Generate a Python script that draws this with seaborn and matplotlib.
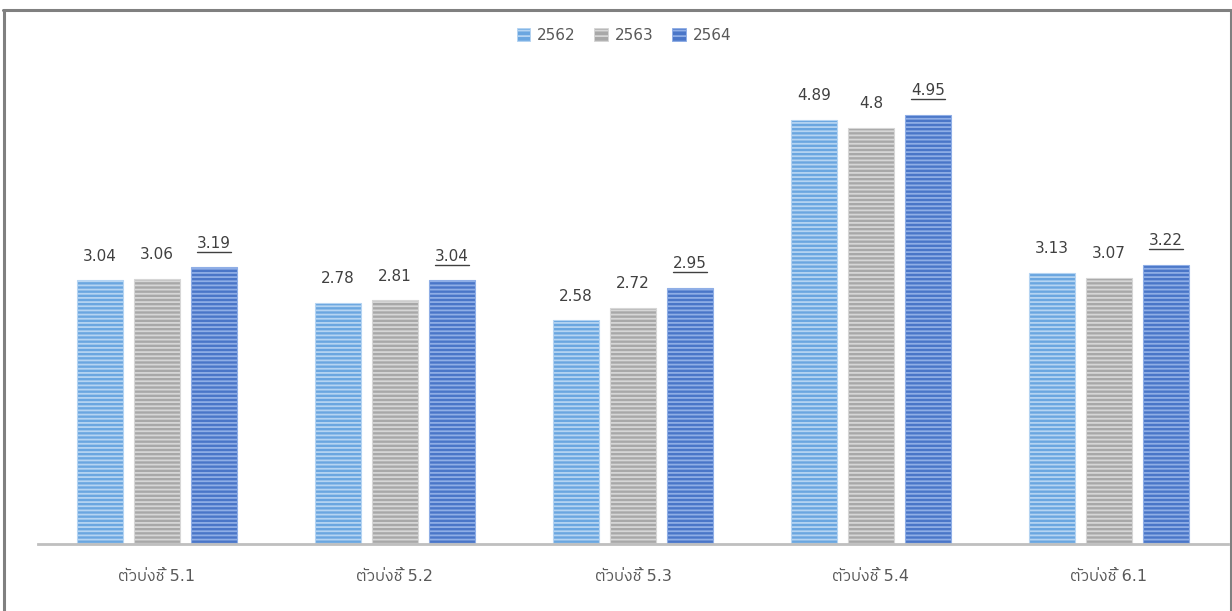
import numpy as np
import pandas as pd
import matplotlib
matplotlib.use("Agg")
import matplotlib.pyplot as plt
import matplotlib.patches as mpatches
from matplotlib.lines import Line2D
from matplotlib import font_manager, ft2font
import seaborn as sns

categories = ["ตัวบ่งชี้ 5.1", "ตัวบ่งชี้ 5.2", "ตัวบ่งชี้ 5.3", "ตัวบ่งชี้ 5.4", "ตัวบ่งชี้ 6.1"]
years = ["2562", "2563", "2564"]
values_2562 = [3.04, 2.78, 2.58, 4.89, 3.13]
values_2563 = [3.06, 2.81, 2.72, 4.80, 3.07]
values_2564 = [3.19, 3.04, 2.95, 4.95, 3.22]
value_labels_2563 = ["3.06", "2.81", "2.72", "4.8", "3.07"]

colors = ["#6AA6E0", "#A8A8A8", "#4A76C8"]
stripe_colors = ["#B5D4F2", "#D6D6D6", "#8FAEE6"]

# find a font with Thai glyphs
thai_family = None
for f in font_manager.fontManager.ttflist:
    if not f.fname.lower().endswith((".ttf", ".otf")):
        continue
    try:
        cm = ft2font.FT2Font(f.fname).get_charmap()
    except Exception:
        continue
    if 0x0E15 in cm and 0x0E1A in cm:
        thai_family = f.name
        if "sans" in f.name.lower():
            break

sns.set_theme(style="white")
fam = ["DejaVu Sans"] + ([thai_family] if thai_family else [])
plt.rcParams["font.family"] = fam
plt.rcParams["hatch.linewidth"] = 1.3

df = pd.DataFrame({
    "category": categories * 3,
    "year": [y for y in years for _ in categories],
    "value": values_2562 + values_2563 + values_2564,
})

fig = plt.figure(figsize=(12.32, 6.11), dpi=100)
fig.patch.set_facecolor("white")
ax = fig.add_axes([38 / 1232, (611 - 544) / 611, (1228 - 38) / 1232, (544 - 67) / 611])

sns.barplot(data=df, x="category", y="value", hue="year", order=categories,
            hue_order=years, palette=colors, width=0.72, gap=0.19,
            legend=False, ax=ax, errorbar=None, saturation=1)

for cont, ec in zip(ax.containers, stripe_colors):
    for bar in cont:
        bar.set_hatch("----")
        bar.set_edgecolor(ec)
        bar.set_linewidth(0.8)

ax.set_ylim(0, 5.5)
ax.set_xlim(-0.5, 4.5)
ax.set_xlabel("")
ax.set_ylabel("")
ax.set_yticks([])
ax.tick_params(axis="x", length=0, pad=18, labelsize=11.5, labelcolor="#595959")
for s in ["top", "right", "left"]:
    ax.spines[s].set_visible(False)
ax.spines["bottom"].set_color("#BFBFBF")
ax.spines["bottom"].set_linewidth(2)
ax.set_facecolor("white")

label_sets = [[f"{v:.2f}" for v in values_2562], value_labels_2563,
              [f"{v:.2f}" for v in values_2564]]
texts_2564 = []
for i, (cont, labs) in enumerate(zip(ax.containers, label_sets)):
    ts = ax.bar_label(cont, labels=labs, padding=12, fontsize=11, color="#404040")
    if i == 2:
        texts_2564 = ts

handles = [mpatches.Patch(facecolor=c, edgecolor=e, hatch="---", linewidth=0.6)
           for c, e in zip(colors, stripe_colors)]
fig.legend(handles, years, loc="center", bbox_to_anchor=(0.5 + 8 / 1232, 1 - 35 / 611), ncol=3,
           frameon=False, fontsize=11, labelcolor="#595959", handlelength=0.9,
           handleheight=0.9, handletextpad=0.45, columnspacing=1.2)

# underline 2564 labels
fig.canvas.draw()
r = fig.canvas.get_renderer()
W, H = fig.bbox.width, fig.bbox.height
for t in texts_2564:
    bb = t.get_window_extent(r)
    y = bb.y0 - 1
    fig.add_artist(Line2D([bb.x0 / W, bb.x1 / W], [y / H, y / H],
                          color="#404040", linewidth=1))

# outer frame
fc = "#808080"
fig.add_artist(Line2D([3 / 1232, 1230.5 / 1232], [1 - 10 / 611, 1 - 10 / 611], color=fc, linewidth=2.2))
fig.add_artist(Line2D([3.5 / 1232, 3.5 / 1232], [0, 1 - 10 / 611], color=fc, linewidth=2.2))
fig.add_artist(Line2D([1230.5 / 1232, 1230.5 / 1232], [0, 1 - 10 / 611], color=fc, linewidth=2.2))

fig.savefig("out.png", dpi=100, facecolor="white")
